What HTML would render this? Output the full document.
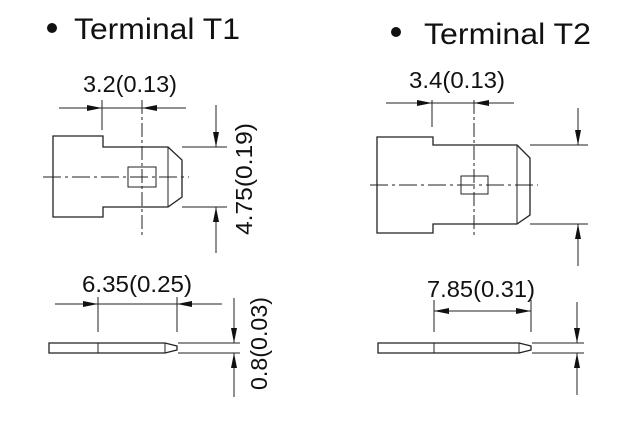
<!DOCTYPE html>
<html><head><meta charset="utf-8"><style>
html,body{margin:0;padding:0;background:#fff;}
svg{display:block;}
text{font-family:"Liberation Sans",Arial,sans-serif;fill:#111;}
</style></head><body>
<svg width="620" height="429" viewBox="0 0 620 429" xmlns="http://www.w3.org/2000/svg">
<defs>
<marker id="a" viewBox="0 0 15 6" refX="15" refY="3" markerWidth="15" markerHeight="6" markerUnits="userSpaceOnUse" orient="auto"><path d="M0,0 L15,3 L0,6 z" fill="#111"/></marker>
</defs>
<circle cx="52" cy="28" r="5" fill="#111"/>
<text x="74" y="39" font-size="30" textLength="166" lengthAdjust="spacingAndGlyphs">Terminal T1</text>
<circle cx="396" cy="32" r="5" fill="#111"/>
<text x="424" y="44" font-size="30" textLength="167" lengthAdjust="spacingAndGlyphs">Terminal T2</text>

<g stroke="#222" stroke-width="1" fill="none">
<line x1="59" y1="108" x2="102" y2="108" marker-end="url(#a)"/>
<line x1="186" y1="108" x2="142" y2="108" marker-end="url(#a)"/>
<line x1="102" y1="108" x2="142" y2="108"/>
<line x1="102" y1="100" x2="102" y2="130"/>
<line x1="142" y1="100" x2="142" y2="237" stroke-dasharray="14,3,3,3"/>
<path d="M53,136 H103 V147 H168 L182,160 V197 L168,207 H103 V217 H53 Z" stroke-width="1.3"/>
<line x1="168" y1="147" x2="168" y2="207"/>
<rect x="128" y="167" width="28" height="20"/>
<line x1="43" y1="177" x2="189" y2="177" stroke-dasharray="18,4,3,4"/>
<line x1="182" y1="147" x2="227" y2="147"/>
<line x1="182" y1="207" x2="227" y2="207"/>
<line x1="216" y1="105" x2="216" y2="147" marker-end="url(#a)"/>
<line x1="216" y1="253" x2="216" y2="207" marker-end="url(#a)"/>

<line x1="386" y1="103" x2="432" y2="103" marker-end="url(#a)"/>
<line x1="514" y1="103" x2="474" y2="103" marker-end="url(#a)"/>
<line x1="432" y1="103" x2="474" y2="103"/>
<line x1="432" y1="100" x2="432" y2="127"/>
<line x1="474" y1="100" x2="474" y2="237" stroke-dasharray="14,3,3,3"/>
<path d="M377,137 H433 V145 H517 L530,158 V215 L517,224 H433 V233 H377 Z" stroke-width="1.3"/>
<line x1="517" y1="145" x2="517" y2="224"/>
<rect x="461" y="176" width="27" height="18"/>
<line x1="370" y1="185" x2="538" y2="185" stroke-dasharray="18,4,3,4"/>
<line x1="530" y1="145" x2="588" y2="145"/>
<line x1="530" y1="224" x2="588" y2="224"/>
<line x1="578" y1="108" x2="578" y2="145" marker-end="url(#a)"/>
<line x1="578" y1="266" x2="578" y2="224" marker-end="url(#a)"/>

<line x1="55" y1="304" x2="98" y2="304" marker-end="url(#a)"/>
<line x1="222" y1="304" x2="177" y2="304" marker-end="url(#a)"/>
<line x1="98" y1="304" x2="177" y2="304"/>
<line x1="98" y1="297" x2="98" y2="332"/>
<line x1="177" y1="297" x2="177" y2="332"/>
<path d="M49,343 H165 L177,346 V350 L165,353 H49 Z" stroke-width="1.3"/>
<line x1="98" y1="343" x2="98" y2="353"/>
<line x1="165" y1="343" x2="165" y2="353"/>
<line x1="178" y1="343" x2="240" y2="343"/>
<line x1="178" y1="353" x2="240" y2="353"/>
<line x1="234" y1="298" x2="234" y2="343" marker-end="url(#a)"/>
<line x1="234" y1="397" x2="234" y2="353" marker-end="url(#a)"/>

<line x1="434" y1="311" x2="531" y2="311"/>
<line x1="470" y1="311" x2="434" y2="311" marker-end="url(#a)"/>
<line x1="495" y1="311" x2="531" y2="311" marker-end="url(#a)"/>
<line x1="434" y1="300" x2="434" y2="332"/>
<line x1="531" y1="300" x2="531" y2="332"/>
<path d="M378,343 H519 L531,346 V350 L519,353 H378 Z" stroke-width="1.3"/>
<line x1="434" y1="343" x2="434" y2="353"/>
<line x1="519" y1="343" x2="519" y2="353"/>
<line x1="532" y1="343" x2="584" y2="343"/>
<line x1="532" y1="353" x2="584" y2="353"/>
<line x1="577" y1="302" x2="577" y2="343" marker-end="url(#a)"/>
<line x1="577" y1="395" x2="577" y2="353" marker-end="url(#a)"/>
</g>

<g font-size="23">
<text x="83" y="92" textLength="94" lengthAdjust="spacingAndGlyphs">3.2(0.13)</text>
<text x="409" y="88" textLength="96" lengthAdjust="spacingAndGlyphs">3.4(0.13)</text>
<text x="82" y="292" textLength="110" lengthAdjust="spacingAndGlyphs">6.35(0.25)</text>
<text x="427" y="297" textLength="108" lengthAdjust="spacingAndGlyphs">7.85(0.31)</text>
<text transform="translate(252,235) rotate(-90)" x="0" y="0" textLength="112" lengthAdjust="spacingAndGlyphs">4.75(0.19)</text>
<text transform="translate(267,390) rotate(-90)" x="0" y="0" textLength="93" lengthAdjust="spacingAndGlyphs">0.8(0.03)</text>
</g>
</svg>
</body></html>
